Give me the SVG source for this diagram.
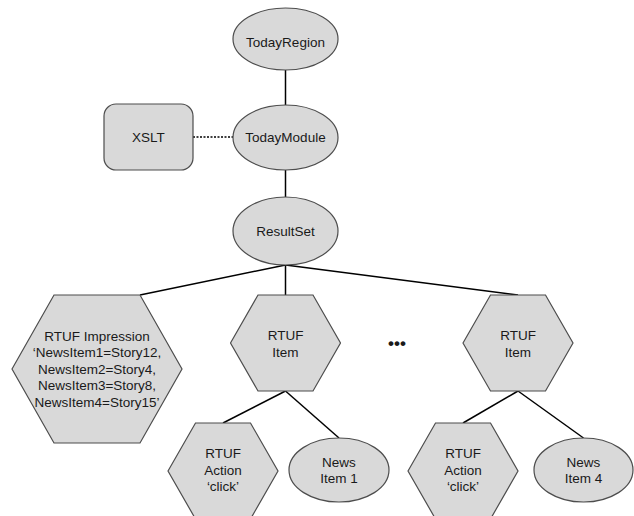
<svg xmlns="http://www.w3.org/2000/svg" width="634" height="516" viewBox="0 0 634 516">
<style>
.n{fill:#d9d9d9;stroke:#4d4d4d;stroke-width:1.2}
.t{font-family:"Liberation Sans",Arial,sans-serif;font-size:13.5px;fill:#1a1a1a;text-anchor:middle}
.c{stroke:#000;stroke-width:1.5;fill:none}
.d{stroke:#000;stroke-width:1.5;fill:none;stroke-dasharray:2 1.5}
</style>
<rect width="634" height="516" fill="#fff"/>
<g id="connectors">
<line class="c" x1="285.5" y1="70" x2="285.5" y2="105"/>
<line class="d" x1="193" y1="137" x2="233" y2="137"/>
<line class="c" x1="285.5" y1="170" x2="285.5" y2="197"/>
<line class="c" x1="285.5" y1="265" x2="140" y2="295"/>
<line class="c" x1="285.5" y1="265" x2="285.5" y2="295"/>
<line class="c" x1="285.5" y1="265" x2="518" y2="295"/>
<line class="c" x1="285.5" y1="391" x2="223" y2="423"/>
<line class="c" x1="285.5" y1="391" x2="339" y2="438"/>
<line class="c" x1="518" y1="391" x2="463" y2="423"/>
<line class="c" x1="518" y1="391" x2="583.5" y2="438"/>
</g>
<g id="TodayRegion">
<ellipse class="n" cx="285.5" cy="39" rx="52.5" ry="31"/>
<text class="t" x="285.5" y="46.5">TodayRegion</text>
</g>
<g id="XSLT">
<rect class="n" x="104" y="104" width="89" height="66" rx="12"/>
<text class="t" x="148.5" y="141.5">XSLT</text>
</g>
<g id="TodayModule">
<ellipse class="n" cx="285.5" cy="137.5" rx="52.5" ry="32.5"/>
<text class="t" x="285.5" y="141.5">TodayModule</text>
</g>
<g id="ResultSet">
<ellipse class="n" cx="285.5" cy="231" rx="52.5" ry="34"/>
<text class="t" x="285.5" y="236">ResultSet</text>
</g>
<g id="RTUFImpression">
<polygon class="n" points="12,369 54,295 140,295 182,369 140,443 54,443"/>
<text class="t" x="97" y="340.5">RTUF Impression</text>
<text class="t" x="97" y="357">‘NewsItem1=Story12,</text>
<text class="t" x="97" y="373.5">NewsItem2=Story4,</text>
<text class="t" x="97" y="390">NewsItem3=Story8,</text>
<text class="t" x="97" y="406.5">NewsItem4=Story15’</text>
</g>
<g id="RTUFItem1">
<polygon class="n" points="230.5,343 258,295 313,295 340.5,343 313,391 258,391"/>
<text class="t" x="285.5" y="339.5">RTUF</text>
<text class="t" x="285.5" y="356.5">Item</text>
</g>
<g id="Ellipsis">
<text class="t" x="397" y="349" style="font-size:17px;font-weight:bold">•••</text>
</g>
<g id="RTUFItem2">
<polygon class="n" points="463,343 490.5,295 545.5,295 573,343 545.5,391 490.5,391"/>
<text class="t" x="518" y="339.5">RTUF</text>
<text class="t" x="518" y="356.5">Item</text>
</g>
<g id="RTUFAction1">
<polygon class="n" points="168,471 195.5,423 250.5,423 278,471 250.5,519 195.5,519"/>
<text class="t" x="223" y="458">RTUF</text>
<text class="t" x="223" y="475">Action</text>
<text class="t" x="223" y="491">‘click’</text>
</g>
<g id="NewsItem1">
<ellipse class="n" cx="339" cy="470" rx="50" ry="32"/>
<text class="t" x="339" y="466.5">News</text>
<text class="t" x="339" y="482.5">Item 1</text>
</g>
<g id="RTUFAction2">
<polygon class="n" points="408,471 435.5,423 490.5,423 518,471 490.5,519 435.5,519"/>
<text class="t" x="463" y="458">RTUF</text>
<text class="t" x="463" y="475">Action</text>
<text class="t" x="463" y="491">‘click’</text>
</g>
<g id="NewsItem4">
<ellipse class="n" cx="583.5" cy="470" rx="49.5" ry="32"/>
<text class="t" x="583.5" y="466.5">News</text>
<text class="t" x="583.5" y="482.5">Item 4</text>
</g>
</svg>
